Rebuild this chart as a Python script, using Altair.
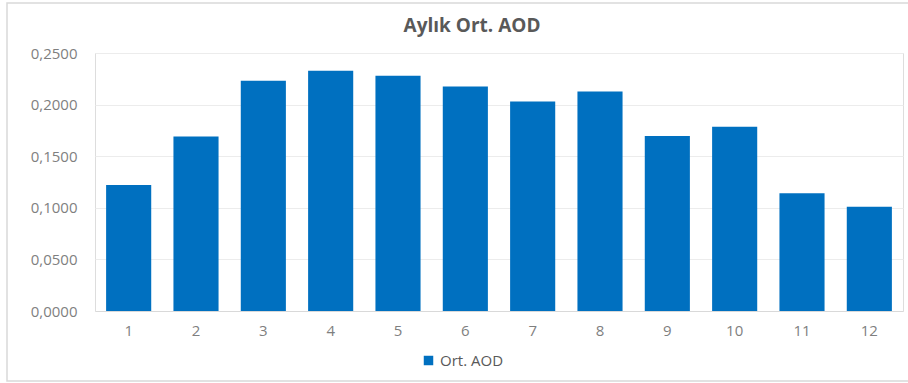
import altair as alt
import pandas as pd

months = ["1", "2", "3", "4", "5", "6", "7", "8", "9", "10", "11", "12"]
aod = [0.1220, 0.1690, 0.2232, 0.2328, 0.2280, 0.2175, 0.2030, 0.2128, 0.1695, 0.1785, 0.1140, 0.1010]
series_name = "Ort. AOD"

df = pd.DataFrame({"Ay": months, "AOD": aod, "Seri": [series_name] * len(months)})

FONT = "Open Sans"

bars = alt.Chart(df).mark_bar(color="#0070C0").encode(
    x=alt.X("Ay:N", sort=months,
            scale=alt.Scale(paddingInner=0.33, paddingOuter=0.165),
            axis=alt.Axis(title=None, labelAngle=0, labelColor="#7f7f7f", labelFontSize=15,
                          labelFont=FONT, labelPadding=12, ticks=False,
                          domainColor="#d9d9d9", grid=False)),
    y=alt.Y("AOD:Q", scale=alt.Scale(domain=[0, 0.25], nice=False),
            axis=alt.Axis(title=None, values=[0, 0.05, 0.1, 0.15, 0.2, 0.25],
                          labelExpr="replace(format(datum.value, '.4f'), '.', ',')",
                          labelColor="#7f7f7f", labelFontSize=15, labelFont=FONT,
                          labelPadding=18, ticks=False, domain=False,
                          gridColor="#ececec")),
    color=alt.Color("Seri:N", scale=alt.Scale(range=["#0070C0"]),
                    legend=alt.Legend(title=None, orient="none", legendX=326, legendY=300,
                                      symbolType="square", symbolSize=90,
                                      labelFont=FONT, labelFontSize=15, labelColor="#595959")),
)

frame = alt.Chart(pd.DataFrame({"k": [0]})).mark_rect(
    fill="transparent", stroke="#d9d9d9", strokeWidth=1.5, clip=False
).encode(x=alt.value(-88), x2=alt.value(830), y=alt.value(-50), y2=alt.value(328))

chart = alt.layer(frame, bars).properties(
    width=808, height=258,
    title=alt.TitleParams("Aylık Ort. AOD", font=FONT, fontSize=19, fontWeight="bold",
                          color="#595959", anchor="middle", dx=-27, offset=-49,
                          baseline="alphabetic"),
    autosize=alt.AutoSizeParams(type="none"),
    padding={"left": 95, "top": 53, "right": 5, "bottom": 72},
).configure_view(stroke=None).configure(background="white")

chart.save("out.html", embed_options={"renderer": "svg", "actions": False})
